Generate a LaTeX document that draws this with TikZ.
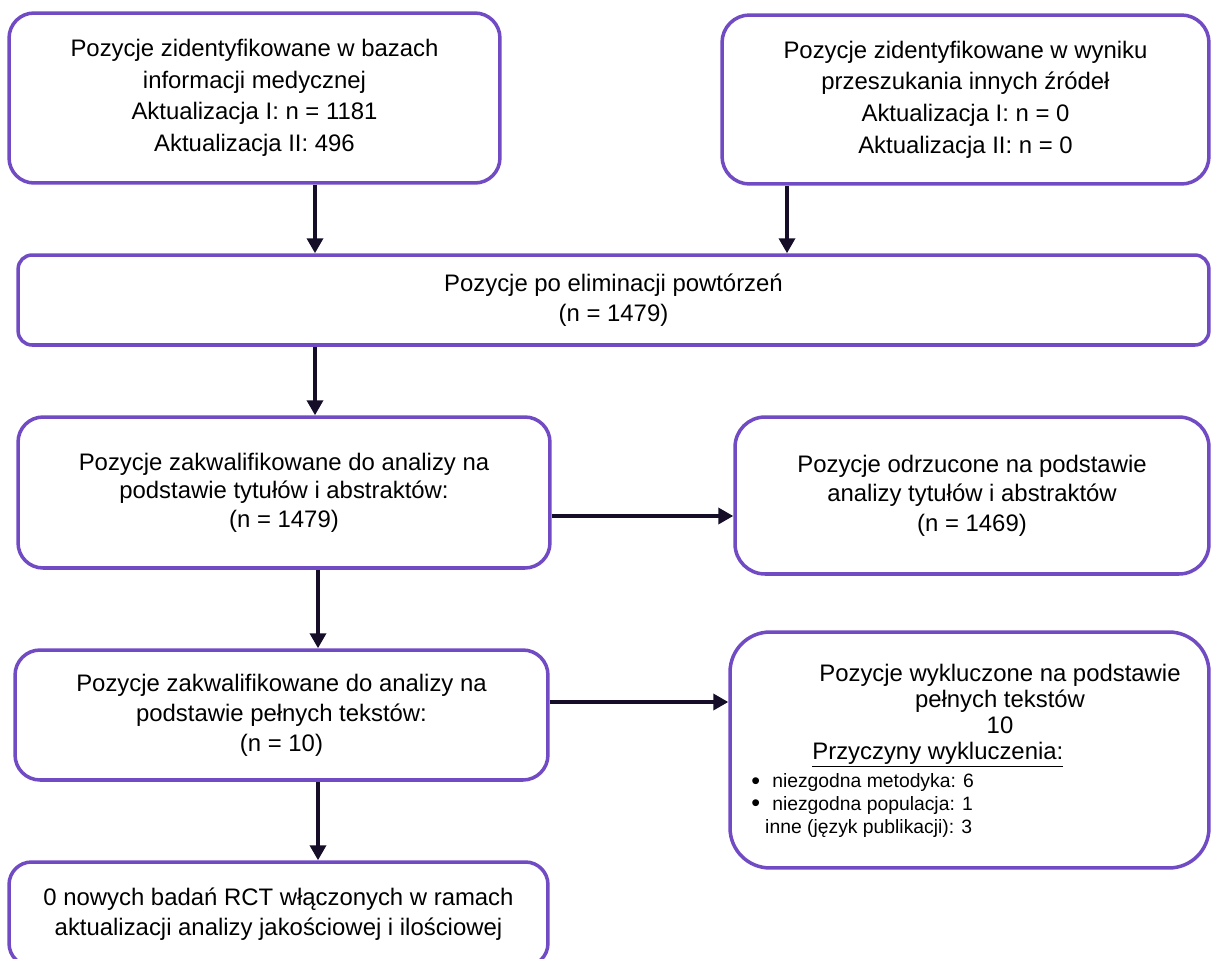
\documentclass[tikz,border=0pt]{standalone}
\usepackage{fontspec}
\setmainfont{Liberation Sans}
\usetikzlibrary{arrows.meta}
\definecolor{boxpurple}{RGB}{113,75,196}
\definecolor{arrowink}{RGB}{22,14,40}
\begin{document}
\begin{tikzpicture}[x=0.02cm,y=-0.02cm,
  box/.style={draw=boxpurple,line width=2pt,fill=white,align=center,inner sep=0pt,font=\fontsize{13.6}{17}\selectfont},
  flow/.style={draw=arrowink,line width=2pt,-{Triangle[length=0.3cm,width=0.32cm]}}]
\useasboundingbox (0,0) rectangle (1211,958);
\node[box,rounded corners=0.5cm,minimum width=9.82cm,minimum height=3.4cm,font=\fontsize{13.6}{18}\selectfont] (srcdb) at (254.5,98) {Pozycje zidentyfikowane w bazach\\informacji medycznej\\Aktualizacja I: n = 1181\\Aktualizacja II: 496};
\node[box,rounded corners=0.55cm,minimum width=9.74cm,minimum height=3.38cm,font=\fontsize{13.6}{18}\selectfont] (srcother) at (965.5,99.5) {Pozycje zidentyfikowane w wyniku\\przeszukania innych źródeł\\Aktualizacja I: n = 0\\Aktualizacja II: n = 0};
\node[box,rounded corners=0.28cm,minimum width=23.82cm,minimum height=1.8cm] (dedup) at (613.5,300) {Pozycje po eliminacji powtórzeń\\(n = 1479)};
\node[box,rounded corners=0.5cm,minimum width=10.64cm,minimum height=3.02cm,font=\fontsize{13.6}{16.2}\selectfont] (titles) at (284,492.5) {Pozycje zakwalifikowane do analizy na\\podstawie tytułów i abstraktów:\\(n = 1479)};
\node[box,rounded corners=0.6cm,minimum width=9.48cm,minimum height=3.14cm,font=\fontsize{13.6}{16.7}\selectfont] (rejected) at (972,495.5) {Pozycje odrzucone na podstawie\\analizy tytułów i abstraktów\\(n = 1469)};
\node[box,rounded corners=0.5cm,minimum width=10.66cm,minimum height=2.6cm] (fulltext) at (281.5,715) {Pozycje zakwalifikowane do analizy na\\podstawie pełnych tekstów:\\(n = 10)};
\node[box,rounded corners=0.8cm,minimum width=9.58cm,minimum height=4.72cm] (excluded) at (969.5,750) {};
\node[align=center,inner sep=0pt,font=\fontsize{13.6}{15}\selectfont] (exhead) at (1000,699) {Pozycje wykluczone na podstawie\\pełnych tekstów\\10};
\node[anchor=base west,inner sep=0pt,font=\fontsize{13.6}{15}\selectfont] (exwhy) at (812,759) {\underline{Przyczyny wykluczenia:}};
\node[anchor=north west,align=left,inner sep=0pt,font=\fontsize{11}{13}\selectfont] (exlist) at (751,773) {\makebox[11.9pt][l]{\raisebox{-1pt}{\scalebox{1.3}{\textbullet}}}niezgodna metodyka: 6\\\makebox[11.9pt][l]{\raisebox{-1pt}{\scalebox{1.3}{\textbullet}}}niezgodna populacja: 1\\\hspace*{7.9pt}inne (język publikacji): 3};
\node[box,rounded corners=0.45cm,minimum width=10.78cm,minimum height=2.08cm] (included) at (278.5,914) {0 nowych badań RCT włączonych w ramach\\aktualizacji analizy jakościowej i ilościowej};
\coordinate (lanea) at (315,0);
\coordinate (laneb) at (787,0);
\coordinate (lanec) at (318,0);
\coordinate (rowa) at (0,516);
\coordinate (rowb) at (0,702);
\draw[flow] (srcdb.south -| lanea) -- (dedup.north -| lanea);
\draw[flow] (srcother.south -| laneb) -- (dedup.north -| laneb);
\draw[flow] (dedup.south -| lanea) -- (titles.north -| lanea);
\draw[flow] (titles.south -| lanec) -- (fulltext.north -| lanec);
\draw[flow] (fulltext.south -| lanec) -- (included.north -| lanec);
\draw[flow] (titles.east |- rowa) -- (rejected.west |- rowa);
\draw[flow] (fulltext.east |- rowb) -- (excluded.west |- rowb);
\end{tikzpicture}
\end{document}
